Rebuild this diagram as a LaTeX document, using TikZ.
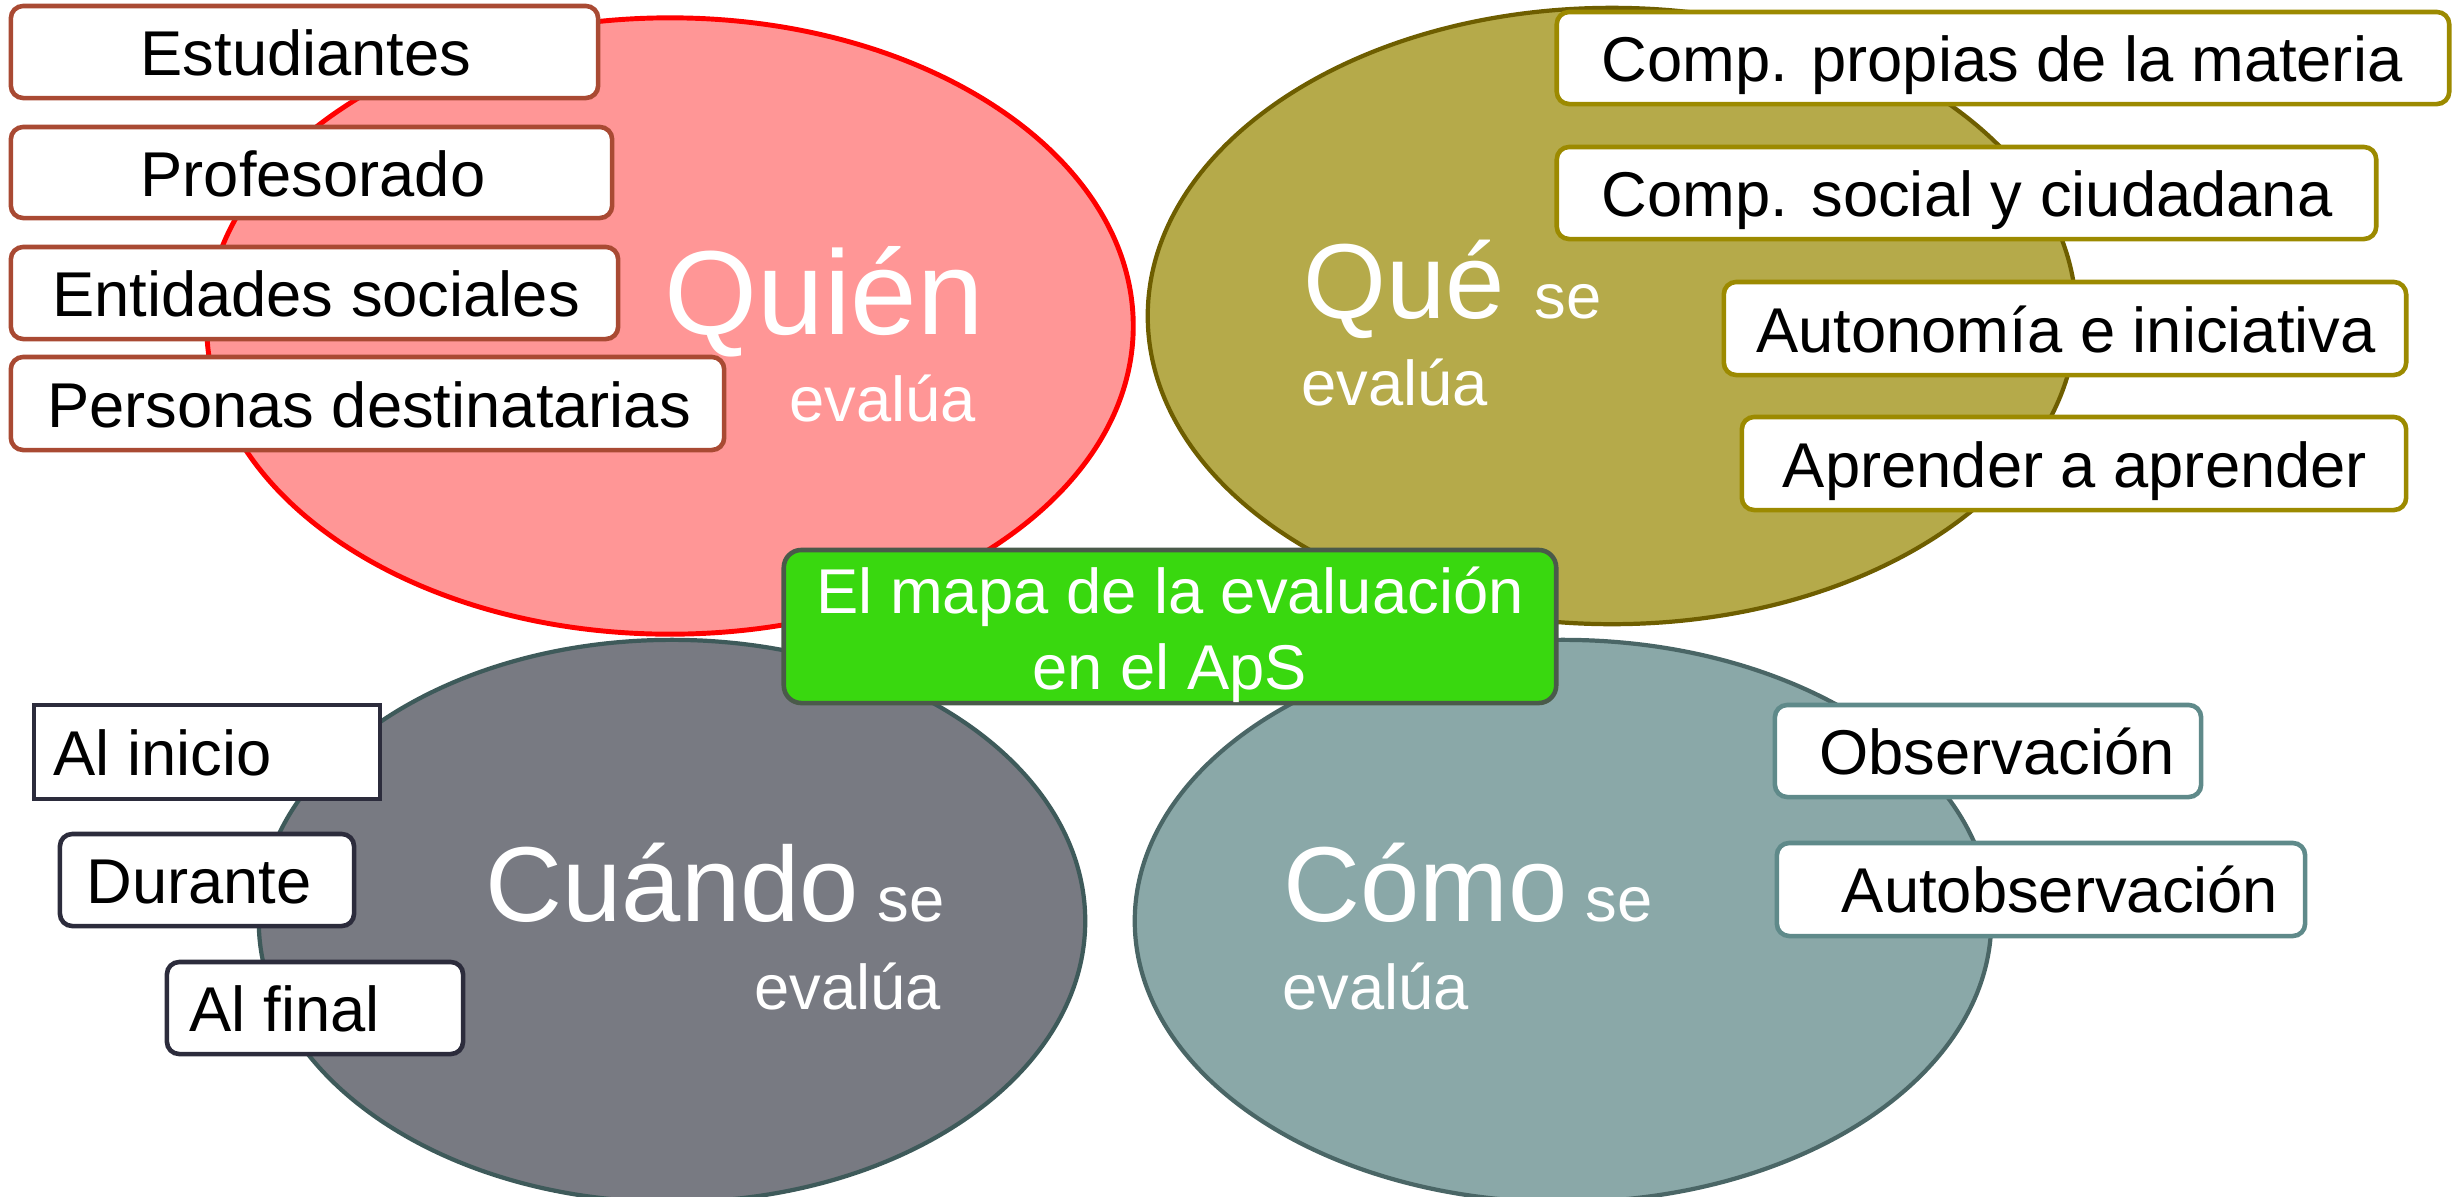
\documentclass[tikz,border=0pt]{standalone}
\usepackage{fontspec}
\setmainfont{Liberation Sans}
\usetikzlibrary{shapes.geometric}
\definecolor{pinkfill}{HTML}{FF9696}
\definecolor{olivefill}{HTML}{B5AA4A}
\definecolor{olivedraw}{HTML}{6E5E00}
\definecolor{grayfill}{HTML}{787A82}
\definecolor{graydraw}{HTML}{3E5A5A}
\definecolor{tealfill}{HTML}{8AA8A8}
\definecolor{tealdraw}{HTML}{4A6666}
\definecolor{greenfill}{HTML}{39D80F}
\definecolor{greendraw}{HTML}{4A5A4A}
\definecolor{pinkbox}{HTML}{A94A33}
\definecolor{olivebox}{HTML}{9C8A00}
\definecolor{graybox}{HTML}{2C2C3C}
\definecolor{tealbox}{HTML}{5F8A8A}
\tikzset{
  bigell/.style={ellipse, inner sep=0pt, line width=1.2pt},
  itembox/.style={rectangle, rounded corners=3.5pt, fill=white, line width=1.3pt, inner sep=0pt},
  lbl/.style={font=\fontsize{18}{21}\selectfont, inner sep=0pt, anchor=base},
  big/.style={font=\fontsize{34}{40}\selectfont, text=white, inner sep=0pt, anchor=base west},
  bigb/.style={font=\fontsize{30.3}{36}\selectfont, text=white, inner sep=0pt, anchor=base west},
  small/.style={font=\fontsize{18}{21}\selectfont, text=white, inner sep=0pt, anchor=base west},
}
\begin{document}
\begin{tikzpicture}[x=0.01cm,y=-0.01cm]
\useasboundingbox (0,0) rectangle (2453,1196);
% ellipses
\node[bigell, fill=pinkfill, draw=red, line width=1.4pt, minimum width=9.26cm, minimum height=6.16cm] (quien) at (670,326) {};
\node[bigell, fill=olivefill, draw=olivedraw, minimum width=9.28cm, minimum height=6.16cm] (que) at (1612,316) {};
\node[bigell, fill=grayfill, draw=graydraw, minimum width=8.26cm, minimum height=5.62cm] (cuando) at (672,921) {};
\node[bigell, fill=tealfill, draw=tealdraw, minimum width=8.56cm, minimum height=5.62cm] (como) at (1563,921) {};
% big labels
\node[big] (tquien) at (664,334) {Quién};
\node[small] (equien) at (789,421) {evalúa};
\node[bigb] (tque) at (1303,318) {Qué};
\node[small] (sque) at (1534,318) {se};
\node[small] (eque) at (1301,405) {evalúa};
\node[bigb] (tcuando) at (485,921) {Cuándo};
\node[small] (scuando) at (877,921) {se};
\node[small] (ecuando) at (754,1009) {evalúa};
\node[bigb] (tcomo) at (1283,921) {Cómo};
\node[small] (scomo) at (1585,921) {se};
\node[small] (ecomo) at (1282,1009) {evalúa};
% Quién boxes
\node[itembox, draw=pinkbox, minimum width=5.87cm, minimum height=0.92cm] (b1) at (304.5,52) {};
\node[lbl] (l1) at (306,75) {Estudiantes};
\node[itembox, draw=pinkbox, minimum width=6.01cm, minimum height=0.91cm] (b2) at (311.5,172.5) {};
\node[lbl] (l2) at (313,196) {Profesorado};
\node[itembox, draw=pinkbox, minimum width=6.07cm, minimum height=0.92cm] (b3) at (314.5,293) {};
\node[lbl] (l3) at (316,316) {Entidades sociales};
\node[itembox, draw=pinkbox, minimum width=7.13cm, minimum height=0.93cm] (b4) at (367.5,403.5) {};
\node[lbl] (l4) at (369,427) {Personas destinatarias};
% Qué boxes
\node[itembox, draw=olivebox, minimum width=8.92cm, minimum height=0.92cm] (c1) at (2003,58) {};
\node[lbl] (m1) at (2002,81) {Comp. propias de la materia};
\node[itembox, draw=olivebox, minimum width=8.19cm, minimum height=0.92cm] (c2) at (1966.5,193) {};
\node[lbl] (m2) at (1967,216) {Comp. social y ciudadana};
\node[itembox, draw=olivebox, minimum width=6.82cm, minimum height=0.93cm] (c3) at (2065,328.5) {};
\node[lbl] (m3) at (2066,352) {Autonomía e iniciativa};
\node[itembox, draw=olivebox, minimum width=6.64cm, minimum height=0.93cm] (c4) at (2074,463.5) {};
\node[lbl] (m4) at (2075,487) {Aprender a aprender};
% Cuándo boxes
\node[itembox, rounded corners=0pt, draw=graybox, minimum width=3.46cm, minimum height=0.94cm] (d1) at (207,752) {};
\node[lbl, anchor=base west] (n1) at (53,775) {Al inicio};
\node[itembox, draw=graybox, minimum width=2.94cm, minimum height=0.92cm] (d2) at (207,880) {};
\node[lbl] (n2) at (199,903) {Durante};
\node[itembox, draw=graybox, minimum width=2.96cm, minimum height=0.92cm] (d3) at (315,1008) {};
\node[lbl, anchor=base west] (n3) at (189,1031) {Al final};
% Cómo boxes
\node[itembox, draw=tealbox, minimum width=4.26cm, minimum height=0.92cm] (e1) at (1988,751) {};
\node[lbl] (o1) at (1997,774) {Observación};
\node[itembox, draw=tealbox, minimum width=5.28cm, minimum height=0.93cm] (e2) at (2041,889.5) {};
\node[lbl] (o2) at (2060,912) {Autobservación};
% centre box
\node[rectangle, rounded corners=5pt, fill=greenfill, draw=greendraw, line width=1.3pt, minimum width=7.72cm, minimum height=1.53cm, inner sep=0pt] (centre) at (1170,626.5) {};
\node[lbl, text=white] (g1) at (1170,613) {El mapa de la evaluación};
\node[lbl, text=white] (g2) at (1170,689) {en el ApS};
\end{tikzpicture}
\end{document}
